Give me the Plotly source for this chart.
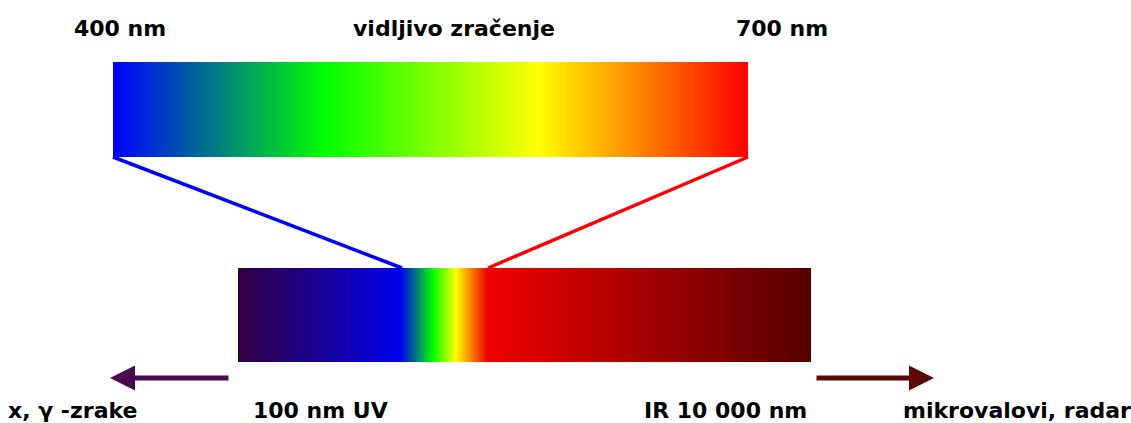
import numpy as np
import plotly.graph_objects as go

# --- data ---
top_stop_pos = [0.0, 0.333, 0.67, 1.0]
top_stop_col = ["#0000ff", "#00ff00", "#ffff00", "#ff0000"]

bot_stop_pos = [0.0, 0.284, 0.34, 0.38, 0.435, 1.0]
bot_stop_col = ["#33003f", "#0000ee", "#00ff00", "#ffff00", "#f00000", "#550000"]

top_labels = ["400 nm", "vidljivo zračenje", "700 nm"]
top_label_x = [120, 454, 782]
bottom_labels = ["x, γ -zrake", "100 nm UV", "IR 10 000 nm", "mikrovalovi, radar"]
bottom_label_x = [72, 320, 725, 1017]

# geometry (pixel space)
W, H = 1131, 423
top_bar = dict(x0=113, x1=748, y0=62, y1=157)
bot_bar = dict(x0=238, x1=811, y0=268, y1=362)
N = 700

fig = go.Figure()


def gradient_bar(bar, pos, col):
    dx = (bar["x1"] - bar["x0"]) / N
    z = [list(np.linspace(0, 1, N))]
    fig.add_trace(go.Heatmap(
        z=z, x0=bar["x0"] + dx / 2, dx=dx,
        y0=(bar["y0"] + bar["y1"]) / 2, dy=bar["y1"] - bar["y0"],
        colorscale=[[p, c] for p, c in zip(pos, col)],
        zmin=0, zmax=1, showscale=False, hoverinfo="skip",
    ))


gradient_bar(top_bar, top_stop_pos, top_stop_col)
gradient_bar(bot_bar, bot_stop_pos, bot_stop_col)

# connecting lines
fig.add_trace(go.Scatter(x=[113, 402], y=[157, 268], mode="lines",
                         line=dict(color="#0000ff", width=3.5), hoverinfo="skip"))
fig.add_trace(go.Scatter(x=[748, 488], y=[157, 268], mode="lines",
                         line=dict(color="#ff0000", width=3.5), hoverinfo="skip"))

# arrows
fig.add_annotation(x=110, y=378, ax=230, ay=378, xref="x", yref="y", axref="x", ayref="y",
                   text="", showarrow=True, arrowhead=2, arrowwidth=5, arrowsize=1.0,
                   arrowcolor="#4a0a4f", standoff=0)
fig.add_annotation(x=934, y=378, ax=815, ay=378, xref="x", yref="y", axref="x", ayref="y",
                   text="", showarrow=True, arrowhead=2, arrowwidth=5, arrowsize=1.0,
                   arrowcolor="#5c0808", standoff=0)

font = dict(family="DejaVu Sans", size=22, color="black")
for t, x in zip(top_labels, top_label_x):
    fig.add_annotation(x=x, y=28, text=f"<b>{t}</b>", showarrow=False,
                       xanchor="center", yanchor="middle", font=font)
for t, x in zip(bottom_labels, bottom_label_x):
    fig.add_annotation(x=x, y=410, text=f"<b>{t}</b>", showarrow=False,
                       xanchor="center", yanchor="middle", font=font)

fig.update_xaxes(range=[0, W], visible=False, fixedrange=True)
fig.update_yaxes(range=[H, 0], visible=False, fixedrange=True)
fig.update_layout(width=W, height=H, margin=dict(l=0, r=0, t=0, b=0),
                  plot_bgcolor="white", paper_bgcolor="white", showlegend=False)

fig.write_html("out.html", config={"displayModeBar": False},
               post_script="document.body.style.margin='0';document.body.style.overflow='hidden';")
